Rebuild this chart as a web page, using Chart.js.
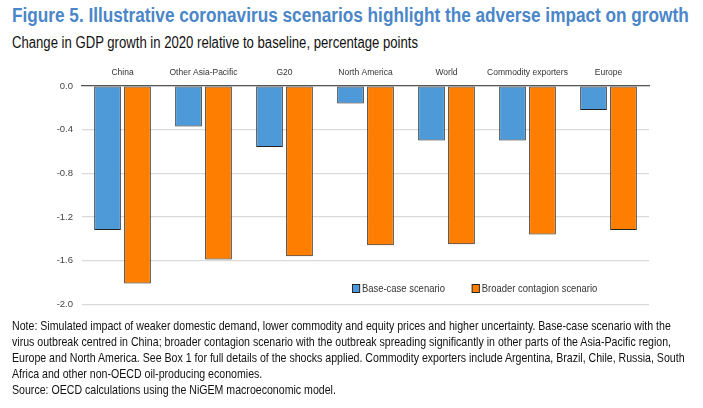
<!DOCTYPE html>
<html>
<head>
<meta charset="utf-8">
<script src="https://cdn.jsdelivr.net/npm/chart.js@4"></script>
<style>
  body { margin: 0; background: #fff; font-family: "Liberation Sans", Arial, sans-serif; }
  #page { position: relative; width: 703px; height: 408px; overflow: hidden; }
  .narrow { position: absolute; white-space: nowrap; transform-origin: 0 0; }
  #title { left: 12px; top: 4px; font-size: 20px; font-weight: bold; color: #4a86c8; transform: scaleX(0.86); }
  #subtitle { left: 12px; top: 34px; font-size: 16px; color: #111; transform: scaleX(0.82); }
  #chartBox { position: absolute; left: 0; top: 60px; width: 660px; height: 259px; }
  #legend { left: 352px; top: 282px; font-size: 10.5px; color: #333; transform: scaleX(0.9); }
  #legend span.item { margin-right: 30px; }
  #legend span.box { display: inline-block; width: 7px; height: 7px; border: 1px solid #222; margin-right: 2px; vertical-align: -1px; }
  #notes { left: 12px; top: 318px; font-size: 13px; line-height: 16px; color: #111; transform: scaleX(0.815); }
</style>
</head>
<body>
<div id="page">
  <div id="title" class="narrow">Figure 5. Illustrative coronavirus scenarios highlight the adverse impact on growth</div>
  <div id="subtitle" class="narrow">Change in GDP growth in 2020 relative to baseline, percentage points</div>
  <div id="chartBox"><canvas id="gdpChart"></canvas></div>
  <div id="legend" class="narrow"></div>
  <div id="notes" class="narrow">
    Note: Simulated impact of weaker domestic demand, lower commodity and equity prices and higher uncertainty. Base-case scenario with the<br>
    virus outbreak centred in China; broader contagion scenario with the outbreak spreading significantly in other parts of the Asia-Pacific region,<br>
    Europe and North America. See Box 1 for full details of the shocks applied. Commodity exporters include Argentina, Brazil, Chile, Russia, South<br>
    Africa and other non-OECD oil-producing economies.<br>
    Source: OECD calculations using the NiGEM macroeconomic model.
  </div>
</div>
<script>
  var regions = ["China", "Other Asia-Pacific", "G20", "North America", "World", "Commodity exporters", "Europe"];
  var baseCase = [-1.32, -0.37, -0.56, -0.16, -0.50, -0.50, -0.22];
  var broaderContagion = [-1.81, -1.59, -1.56, -1.46, -1.45, -1.36, -1.32];
  var seriesNames = ["Base-case scenario", "Broader contagion scenario"];
  var yTicks = [0, -0.4, -0.8, -1.2, -1.6, -2.0];

  var blue = "#4e9ad9";
  var orange = "#fd7e00";
  var fontName = "'Liberation Sans', Arial, sans-serif";

  var ctx = document.getElementById("gdpChart").getContext("2d");
  var chart = new Chart(ctx, {
    type: "bar",
    data: {
      labels: regions,
      datasets: [
        {
          label: seriesNames[0],
          data: baseCase,
          backgroundColor: blue,
          borderColor: "#222",
          borderWidth: 1,
          borderSkipped: false,
          categoryPercentage: 0.74,
          barPercentage: 0.89,
        },
        {
          label: seriesNames[1],
          data: broaderContagion,
          backgroundColor: orange,
          borderColor: "#222",
          borderWidth: 1,
          borderSkipped: false,
          categoryPercentage: 0.74,
          barPercentage: 0.89,
        },
      ],
    },
    options: {
      responsive: true,
      maintainAspectRatio: false,
      animation: false,
      layout: { padding: { left: 0, right: 11, top: 0, bottom: 7 } },
      plugins: {
        legend: { display: false },
        tooltip: { enabled: false },
      },
      scales: {
        x: {
          position: "top",
          grid: { display: false, drawTicks: false },
          border: { display: true, color: "#555", width: 1.3 },
          ticks: { color: "#333", font: { family: fontName, size: 8.5 }, padding: 8, maxRotation: 0, autoSkip: false },
          afterFit: function (scale) { scale.height = 26; },
        },
        y: {
          min: -2.0,
          max: 0,
          afterBuildTicks: function (scale) {
            scale.ticks = yTicks.map(function (v) { return { value: v }; });
          },
          grid: { color: "#dadada", lineWidth: 1.2, drawTicks: false },
          border: { display: false },
          ticks: {
            color: "#444",
            font: { family: fontName, size: 9.5 },
            padding: 9,
            callback: function (v) { return Number(v).toFixed(1); },
          },
          afterFit: function (scale) { scale.width = 82; },
        },
      },
    },
  });

  // legend inside the plot, bottom right
  var legendEl = document.getElementById("legend");
  chart.data.datasets.forEach(function (ds) {
    var item = document.createElement("span");
    item.className = "item";
    item.innerHTML = '<span class="box" style="background:' + ds.backgroundColor + '"></span>' + ds.label;
    legendEl.appendChild(item);
  });
</script>
</body>
</html>
